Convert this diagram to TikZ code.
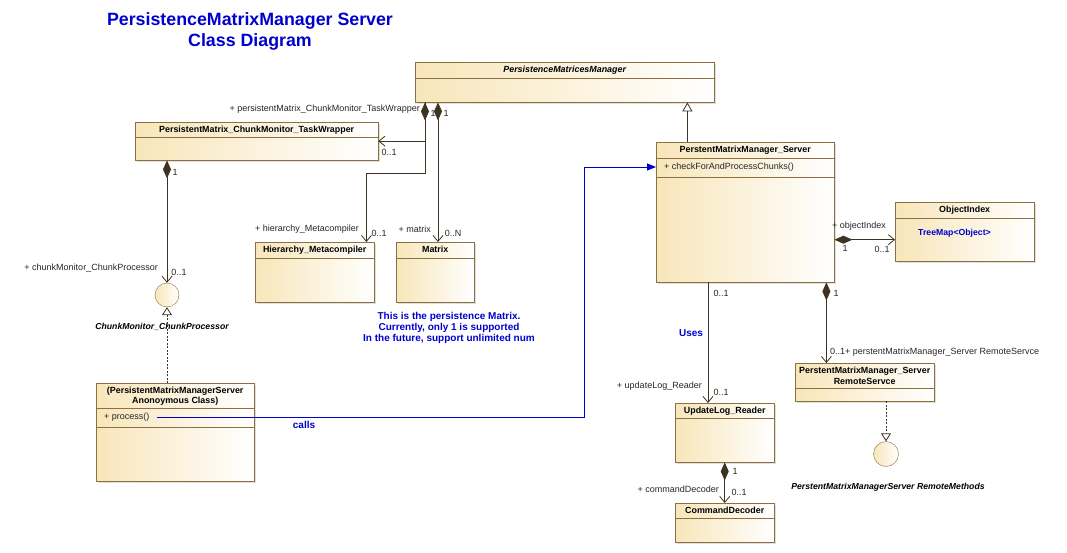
\documentclass[tikz,border=0pt]{standalone}
\usepackage{fontspec}
\setmainfont{Liberation Sans}
\usetikzlibrary{arrows.meta,shadows}

\definecolor{umlline}{RGB}{140,112,64}
\definecolor{umlfill}{RGB}{248,230,186}
\definecolor{umlwire}{RGB}{62,50,32}
\definecolor{umlblue}{RGB}{0,0,205}

\begin{document}
\begin{tikzpicture}
    [ x=1pt, y=-1pt
    , every node/.style={font=\fontsize{9}{10.5}\selectfont, inner sep=1pt, text=black!85}
    , classbox/.style={draw=umlline, left color=umlfill, right color=white, anchor=north west,
                       inner sep=0pt, drop shadow={shadow xshift=1.5pt, shadow yshift=-1.5pt, opacity=0.25}}
    , classname/.style={font=\fontsize{8.9}{10.5}\selectfont\bfseries, below, inner sep=0pt, yshift=-4pt,
                        align=center, text=black}
    , iface/.style={circle, draw=umlline, minimum size=24pt, inner sep=0pt, left color=umlfill, right color=white}
    , ifacename/.style={font=\fontsize{8.7}{10}\selectfont\bfseries\itshape, text=black}
    , compart/.style={draw=umlline}
    , wire/.style={draw=umlwire, line width=0.8pt}
    , comp/.style={wire, {Diamond[length=18pt,width=8pt,fill=umlwire]}-{Straight Barb[length=6pt,width=10pt]}}
    , assoc/.style={wire, -{Straight Barb[length=6pt,width=10pt]}}
    , gen/.style={wire, -{Triangle[length=9pt,width=10pt,fill=white]}}
    , real/.style={wire, dash pattern=on 2pt off 1.5pt, -{Triangle[length=8pt,width=10pt,fill=white]}}
    , calls/.style={draw=umlblue, line width=0.9pt, -{Triangle[length=9pt,width=7pt]}}
    , bluetext/.style={font=\fontsize{10}{11}\selectfont\bfseries, text=umlblue, align=center}
    ]
    \useasboundingbox (0,0) rectangle (1067,553);

    % title
    \node (title) [font=\fontsize{17.8}{21}\selectfont\bfseries, text=umlblue, align=center] at (250,31)
      {PersistenceMatrixManager Server\\Class Diagram};

    % classes
    \node (pmm) [classbox, minimum width=299pt, minimum height=40pt] at (415,62) {};
    \node [classname, font=\fontsize{8.9}{10.5}\selectfont\bfseries\itshape] at (pmm.north) {PersistenceMatricesManager};
    \draw [compart] ([yshift=-16pt]pmm.north west) -- ([yshift=-16pt]pmm.north east);

    \node (tw) [classbox, minimum width=243pt, minimum height=38pt] at (135,122) {};
    \node [classname] at (tw.north) {PersistentMatrix\_ChunkMonitor\_TaskWrapper};
    \draw [compart] ([yshift=-15pt]tw.north west) -- ([yshift=-15pt]tw.north east);

    \node (hm) [classbox, minimum width=119pt, minimum height=60pt] at (255,242) {};
    \node [classname] at (hm.north) {Hierarchy\_Metacompiler};
    \draw [compart] ([yshift=-16pt]hm.north west) -- ([yshift=-16pt]hm.north east);

    \node (mx) [classbox, minimum width=78pt, minimum height=60pt] at (396,242) {};
    \node [classname] at (mx.north) {Matrix};
    \draw [compart] ([yshift=-16pt]mx.north west) -- ([yshift=-16pt]mx.north east);

    \node (anon) [classbox, minimum width=158pt, minimum height=98pt] at (96,383) {};
    \node [classname, font=\fontsize{8.9}{10}\selectfont\bfseries] at (anon.north) {(PersistentMatrixManagerServer\\Anonoymous Class)};
    \draw [compart] ([yshift=-25pt]anon.north west) -- ([yshift=-25pt]anon.north east);
    \draw [compart] ([yshift=-44pt]anon.north west) -- ([yshift=-44pt]anon.north east);
    \node (proc) [anchor=west] at (103,417) {+ process()};

    \node (srv) [classbox, minimum width=178pt, minimum height=140pt] at (656,142) {};
    \node [classname] at (srv.north) {PerstentMatrixManager\_Server};
    \draw [compart] ([yshift=-16pt]srv.north west) -- ([yshift=-16pt]srv.north east);
    \draw [compart] ([yshift=-35pt]srv.north west) -- ([yshift=-35pt]srv.north east);
    \node (chk) [anchor=west] at (663,167) {+ checkForAndProcessChunks()};

    \node (oi) [classbox, minimum width=139pt, minimum height=59pt] at (895,202) {};
    \node [classname] at (oi.north) {ObjectIndex};
    \draw [compart] ([yshift=-16pt]oi.north west) -- ([yshift=-16pt]oi.north east);
    \node [bluetext, font=\fontsize{8.7}{10}\selectfont\bfseries, anchor=west] at (917,233) {TreeMap<Object>};
    \coordinate (oiin) at ([yshift=-8pt]oi.west);

    \node (ul) [classbox, minimum width=99pt, minimum height=59pt] at (675,403) {};
    \node [classname] at (ul.north) {UpdateLog\_Reader};
    \draw [compart] ([yshift=-15pt]ul.north west) -- ([yshift=-15pt]ul.north east);

    \node (rs) [classbox, minimum width=139pt, minimum height=38pt] at (795,363) {};
    \node [classname] at (rs.north) {PerstentMatrixManager\_Server\\RemoteServce};
    \draw [compart] ([yshift=-25pt]rs.north west) -- ([yshift=-25pt]rs.north east);

    \node (cd) [classbox, minimum width=99pt, minimum height=39pt] at (675,503) {};
    \node [classname] at (cd.north) {CommandDecoder};
    \draw [compart] ([yshift=-15pt]cd.north west) -- ([yshift=-15pt]cd.north east);

    % interfaces
    \node (cp) [iface] at (167,295) {};
    \node [ifacename] at (162,327) {ChunkMonitor\_ChunkProcessor};
    \node (rmi) [iface, minimum size=25pt] at (886,454) {};
    \node [ifacename] at (888,487) {PerstentMatrixManagerServer RemoteMethods};

    % note
    \node (note) [bluetext] at (449,328)
      {This is the persistence Matrix.\\Currently, only 1 is supported\\In the future, support unlimited num};

    % connectors
    \draw [gen] ([xshift=-27pt]pmm.south east |- srv.north) -- ([xshift=-27pt]pmm.south east);
    \draw [comp] ([xshift=10pt]pmm.south west) |- (tw.east);
    \draw [assoc] ([xshift=10pt]pmm.south west) -- ++(0,71) -| ([xshift=-8pt]hm.north east);
    \draw [comp] ([xshift=23pt]pmm.south west) -- ([xshift=23pt]pmm.south west |- mx.north);
    \draw [comp] (cp.north |- tw.south) -- (cp.north);
    \draw [real] (cp.south |- anon.north) -- (cp.south);
    \coordinate (callbend) at (584,167);
    \draw [calls] ([xshift=6pt]proc.east) -| (callbend) -- (srv.west |- chk);
    \draw [comp] (srv.east |- oiin) -- (oiin);
    \draw [assoc] ([xshift=33pt]ul.north west |- srv.south) -- ([xshift=33pt]ul.north west);
    \draw [comp] ([xshift=-8pt]srv.south east) -- ([xshift=-8pt]srv.south east |- rs.north);
    \draw [real] (rmi.north |- rs.south) -- (rmi.north);
    \draw [comp] (ul.south) -- (cd.north);

    % end labels
    \node [anchor=east] at (421,109) {+ persistentMatrix\_ChunkMonitor\_TaskWrapper};
    \node at (433,113) {1};
    \node at (446,113) {1};
    \node at (389,152) {0..1};
    \node [anchor=east] at (360,229) {+ hierarchy\_Metacompiler};
    \node at (379,233) {0..1};
    \node [anchor=east] at (432,229) {+ matrix};
    \node at (453,233) {0..N};
    \node at (175,172) {1};
    \node [anchor=east] at (159,268) {+ chunkMonitor\_ChunkProcessor};
    \node at (179,272) {0..1};
    \node [bluetext] at (304,425) {calls};
    \node [anchor=west] at (831,226) {+ objectIndex};
    \node at (845,248) {1};
    \node at (882,249) {0..1};
    \node at (721,293) {0..1};
    \node [bluetext] at (691,333) {Uses};
    \node [anchor=east] at (703,386) {+ updateLog\_Reader};
    \node at (721,392) {0..1};
    \node at (836,293) {1};
    \node [anchor=west] at (829,352) {0..1+ perstentMatrixManager\_Server RemoteServce};
    \node at (735,471) {1};
    \node [anchor=east] at (720,489) {+ commandDecoder};
    \node at (739,492) {0..1};
\end{tikzpicture}
\end{document}
